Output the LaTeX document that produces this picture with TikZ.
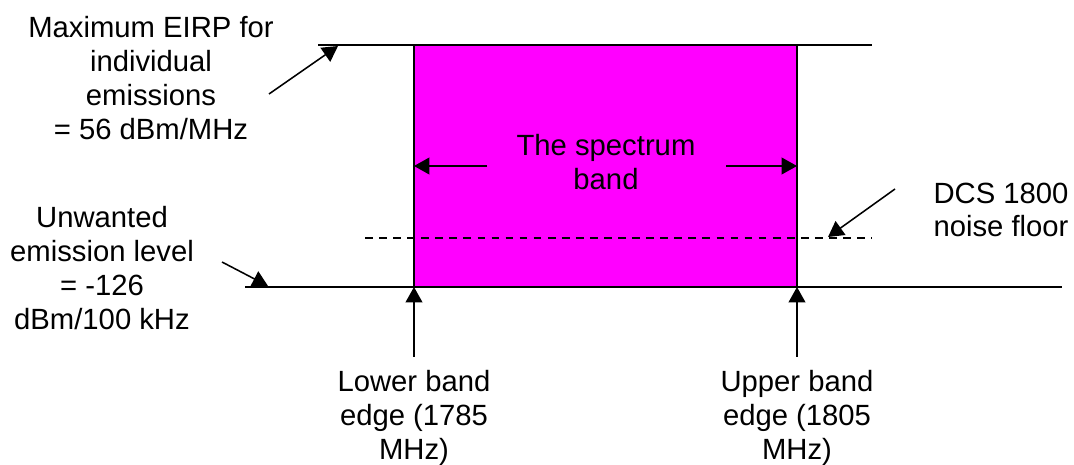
\documentclass[tikz,border=0pt]{standalone}
\usepackage{fontspec}
\setmainfont{Liberation Sans}
\usetikzlibrary{arrows.meta}
\definecolor{bandfill}{RGB}{255,0,255}

\begin{document}
\begin{tikzpicture}[
  x=0.025cm, y=-0.025cm,
  lbl/.style={align=center,inner sep=0pt,font=\fontsize{20.8}{24}\selectfont},
  lvl/.style={line width=1.2pt},
  arr/.style={-{Triangle[length=11pt,width=12pt]},line width=1.1pt},
]
  \useasboundingbox (0,0) rectangle (1074,465);

  % band corners and level ends
  \coordinate (BL) at (414,287);
  \coordinate (TR) at (797,45);
  \coordinate (topL) at (318,45);
  \coordinate (topR) at (872,45);
  \coordinate (botL) at (245,287);
  \coordinate (botR) at (1062,287);
  \coordinate (dashL) at (365,238);
  \coordinate (dashR) at (872,238);

  \fill[bandfill] (BL) rectangle (TR);
  \draw[lvl] (topL) -- (topR);
  \draw[lvl] (botL) -- (botR);
  \draw[lvl] (BL) |- (TR) |- (BL);
  \draw[line width=1pt,dash pattern=on 5.5pt off 4.5pt] (dashL) -- (dashR);

  % labels
  \node[lbl] (eirp) at (151,78) {Maximum EIRP for\\individual\\emissions\\= 56 dBm/MHz};
  \node[lbl] (unw) at (102,268) {Unwanted\\emission level\\= -126\\dBm/100 kHz};
  \node[lbl] (dcs) at (1001,210) {DCS 1800\\noise floor};
  \node[lbl] (band) at (606,162) {The spectrum\\band};
  \node[lbl] (lower) at (414,418) {Lower band\\edge (1785\\MHz)};
  \node[lbl] (upper) at (797,418) {Upper band\\edge (1805\\MHz)};

  % pointers
  \coordinate (eirpS) at (269,94);
  \coordinate (eirpT) at (338,46);
  \coordinate (unwS) at (222,262);
  \coordinate (unwT) at (268,286);
  \coordinate (dcsS) at (895,189);
  \coordinate (dcsT) at (828,237);
  \coordinate (lowS) at (414,357);
  \coordinate (upS) at (797,357);
  \coordinate (bandLS) at (487,166);
  \coordinate (bandRS) at (726,166);

  \draw[arr] (eirpS) -- (eirpT);
  \draw[arr] (unwS) -- (unwT);
  \draw[arr] (dcsS) -- (dcsT);
  \draw[arr] (lowS) -- (BL);
  \draw[arr] (upS) -- (BL -| TR);
  \draw[arr] (bandLS) -- (bandLS -| BL);
  \draw[arr] (bandRS) -- (bandRS -| TR);
\end{tikzpicture}
\end{document}
